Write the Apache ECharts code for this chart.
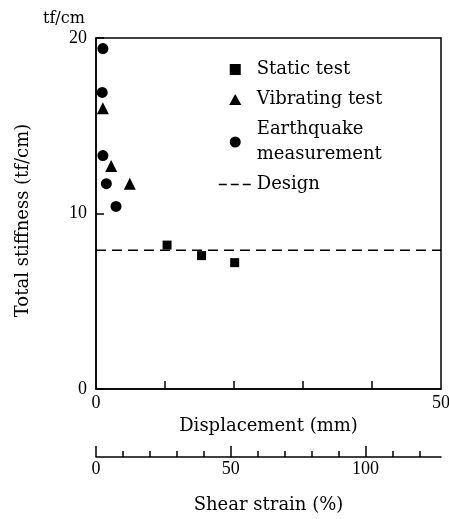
<!DOCTYPE html>
<html><head><meta charset="utf-8">
<script src="https://cdn.jsdelivr.net/npm/echarts@6/dist/echarts.min.js"></script>
<style>html,body{margin:0;padding:0;background:#fff}#c{width:449px;height:519px}</style>
</head><body><div id="c"></div>
<script>
// Data
const staticDisp = [10.3, 15.3, 20.1];
const staticStiff = [8.2, 7.6, 7.2];
const vibDisp = [1.0, 2.2, 4.9];
const vibStiff = [16.0, 12.7, 11.7];
const quakeDisp = [1.0, 0.9, 1.0, 1.5, 2.9];
const quakeStiff = [19.4, 16.9, 13.3, 11.7, 10.4];
const designDisp = [0, 50];
const designStiff = [7.9, 7.9];

const stiffTicks = [0, 10, 20];
const dispTicks = [10, 20, 30, 40];
const dispLabels = [0, 50];
const strainMinorTicks = [0, 10, 20, 30, 40, 50, 60, 70, 80, 90, 100, 110, 120];
const strainMajorTicks = [0, 50, 100];

const zip = (xs, ys) => xs.map((x, i) => [x, ys[i]]);
const INK = '#000';
const TEXT_FONT = 'DejaVu Serif';
const NUM_FONT = 'Liberation Serif';

const chart = echarts.init(document.getElementById('c'), null, {renderer: 'canvas'});
chart.setOption({
  backgroundColor: '#fff',
  animation: false,
  title: {
    text: 'tf/cm', left: 38, top: 6,
    textStyle: {fontFamily: TEXT_FONT, fontSize: 16, fontWeight: 'normal', color: INK}
  },
  legend: {
    orient: 'vertical', left: 213, top: 52,
    itemWidth: 33, itemHeight: 11, itemGap: 5,
    symbolKeepAspect: true,
    textStyle: {fontFamily: TEXT_FONT, fontSize: 18, lineHeight: 25, color: INK},
    data: [
      {name: 'Static test', icon: 'path://M0,0H1V1H0Z', itemStyle: {color: INK, opacity: 1}},
      {name: 'Vibrating test', icon: 'path://M0.5,0L1,0.9H0Z', itemStyle: {color: INK, opacity: 1}},
      {name: 'Earthquake\nmeasurement', icon: 'circle', itemStyle: {color: INK, opacity: 1}},
      {name: 'Design', itemStyle: {color: 'rgba(0,0,0,0)', borderWidth: 0, opacity: 0},
       lineStyle: {color: INK, width: 1.5, type: [8, 4]}}
    ]
  },
  grid: {
    left: 96, right: 8, top: 38, bottom: 130,
    outerBoundsMode: 'none', containLabel: false,
    show: true, borderColor: INK, borderWidth: 1.5, backgroundColor: 'transparent'
  },
  xAxis: [
    {
      type: 'value', min: 0, max: 50, position: 'bottom',
      axisLine: {show: true, lineStyle: {color: INK, width: 1.5}},
      axisTick: {show: true, inside: true, length: 8, customValues: dispTicks, lineStyle: {color: INK, width: 1.5}},
      axisLabel: {customValues: dispLabels, margin: 5, fontFamily: NUM_FONT, fontSize: 18, color: INK},
      splitLine: {show: false},
      name: 'Displacement (mm)', nameLocation: 'middle', nameGap: 15,
      nameTextStyle: {fontFamily: TEXT_FONT, fontSize: 18, color: INK}
    },
    {
      type: 'value', min: 0, max: 128, position: 'bottom', offset: 68,
      axisLine: {show: true, lineStyle: {color: INK, width: 1.5}},
      axisTick: {show: true, inside: true, length: 6, customValues: strainMinorTicks, lineStyle: {color: INK, width: 1.5}},
      axisLabel: {show: false},
      splitLine: {show: false}
    },
    {
      type: 'value', min: 0, max: 128, position: 'bottom', offset: 68,
      axisLine: {show: false},
      axisTick: {show: true, inside: true, length: 11, customValues: strainMajorTicks, lineStyle: {color: INK, width: 1.5}},
      axisLabel: {customValues: strainMajorTicks, margin: 3, fontFamily: NUM_FONT, fontSize: 18, color: INK},
      splitLine: {show: false},
      name: 'Shear strain (%)', nameLocation: 'middle', nameGap: 39,
      nameTextStyle: {fontFamily: TEXT_FONT, fontSize: 18, color: INK}
    }
  ],
  yAxis: {
    type: 'value', min: 0, max: 20, interval: 10,
    axisLine: {show: true, lineStyle: {color: INK, width: 1.5}},
    axisTick: {show: true, inside: true, length: 8, customValues: stiffTicks, lineStyle: {color: INK, width: 1.5}},
    axisLabel: {customValues: stiffTicks, margin: 9, fontFamily: NUM_FONT, fontSize: 18, color: INK},
    splitLine: {show: false},
    name: 'Total stiffness (tf/cm)', nameLocation: 'middle', nameGap: 64, nameRotate: 90,
    nameTextStyle: {fontFamily: TEXT_FONT, fontSize: 18, color: INK, padding: [0, 14, 0, 0]}
  },
  series: [
    {
      name: 'Static test', type: 'scatter', xAxisIndex: 0, yAxisIndex: 0,
      symbol: 'rect', symbolSize: 9, itemStyle: {color: INK, opacity: 1},
      data: zip(staticDisp, staticStiff)
    },
    {
      name: 'Vibrating test', type: 'scatter', xAxisIndex: 0, yAxisIndex: 0,
      symbol: 'triangle', symbolSize: 12, itemStyle: {color: INK, opacity: 1},
      data: zip(vibDisp, vibStiff)
    },
    {
      name: 'Earthquake\nmeasurement', type: 'scatter', xAxisIndex: 0, yAxisIndex: 0,
      symbol: 'circle', symbolSize: 11, itemStyle: {color: INK, opacity: 1},
      data: zip(quakeDisp, quakeStiff)
    },
    {
      name: 'Design', type: 'line', xAxisIndex: 0, yAxisIndex: 0,
      symbol: 'none', itemStyle: {color: INK},
      lineStyle: {color: INK, width: 1.5, type: [10, 6]},
      data: zip(designDisp, designStiff), z: 1
    }
  ]
});
</script>
</body></html>
